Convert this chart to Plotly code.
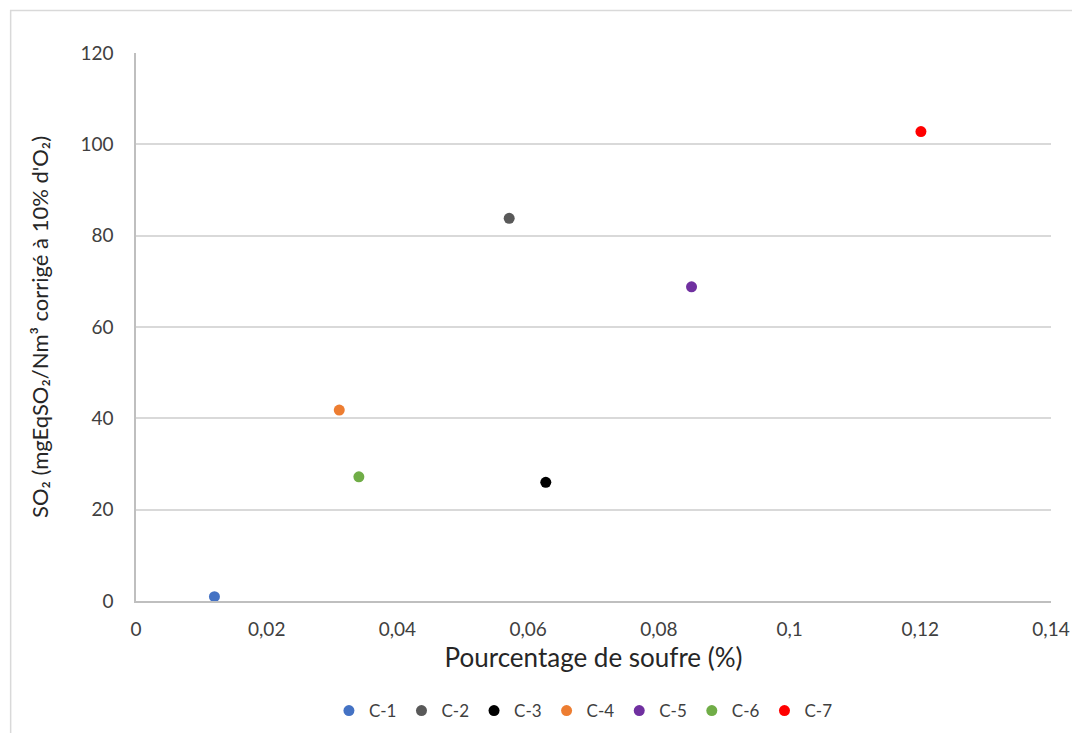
import plotly.graph_objects as go

# Données
noms = ["C-1", "C-2", "C-3", "C-4", "C-5", "C-6", "C-7"]
soufre = [0.012, 0.0571, 0.0627, 0.0311, 0.085, 0.0341, 0.1201]
so2 = [0.95, 83.8, 26.0, 41.8, 68.8, 27.2, 102.8]
couleurs = ["#4472C4", "#595959", "#000000", "#ED7D31", "#7030A0", "#70AD47", "#FF0000"]

x_ticks = [0, 0.02, 0.04, 0.06, 0.08, 0.1, 0.12, 0.14]
x_labels = ["0", "0,02", "0,04", "0,06", "0,08", "0,1", "0,12", "0,14"]
y_ticks = [0, 20, 40, 60, 80, 100, 120]

police = "Lato, 'Open Sans', sans-serif"

fig = go.Figure()

for nom, xv, yv, c in zip(noms, soufre, so2, couleurs):
    fig.add_trace(go.Scatter(
        x=[xv], y=[yv],
        mode='markers',
        name=nom,
        marker=dict(color=c, size=11),
    ))

fig.update_layout(
    width=1072, height=733,
    margin=dict(l=135.5, r=21, t=53, b=132),
    paper_bgcolor='white',
    plot_bgcolor='white',
    font=dict(family=police, color='#404040', size=18),
    showlegend=True,
    legend=dict(orientation='h', x=0.489, xanchor='center',
                yref='container', y=0.03, yanchor='middle',
                font=dict(size=17, color='#404040'), itemwidth=30,
                tracegroupgap=0),
    xaxis=dict(
        range=[0, 0.14], tickvals=x_ticks, ticktext=x_labels,
        showgrid=False, zeroline=False, automargin=False,
        showline=True, linecolor='#bfbfbf', linewidth=1.5,
        ticks='outside', ticklen=10, tickcolor='rgba(0,0,0,0)',
        tickfont=dict(size=19, color='#404040'), ticklabeloverflow='allow',
        title=dict(text="Pourcentage de soufre (%)", font=dict(size=26, color='#262626'), standoff=10),
    ),
    yaxis=dict(
        range=[0, 120], tickvals=y_ticks,
        showgrid=True, gridcolor='#d9d9d9', gridwidth=1.5, zeroline=False, automargin=False,
        showline=True, linecolor='#bfbfbf', linewidth=1.5,
        ticks='outside', ticklen=17, tickcolor='rgba(0,0,0,0)',
        tickfont=dict(size=19, color='#404040'),
        title=dict(text="SO₂ (mgEqSO₂/Nm³ corrigé à 10% d'O₂)", font=dict(size=22, color='#262626'), standoff=26),
    ),
)

# cadre extérieur du graphique
fig.add_shape(type='rect', xref='paper', yref='paper',
              x0=-0.137, y0=-0.4, x1=1.2, y1=1.0776,
              line=dict(color='#d9d9d9', width=1.5), layer='below')

# pas de marge autour de la figure dans la page, pas de barre d'outils
fig.write_html("out.html", config={'displayModeBar': False},
               post_script="document.body.style.margin='0';document.body.style.overflow='hidden';")
